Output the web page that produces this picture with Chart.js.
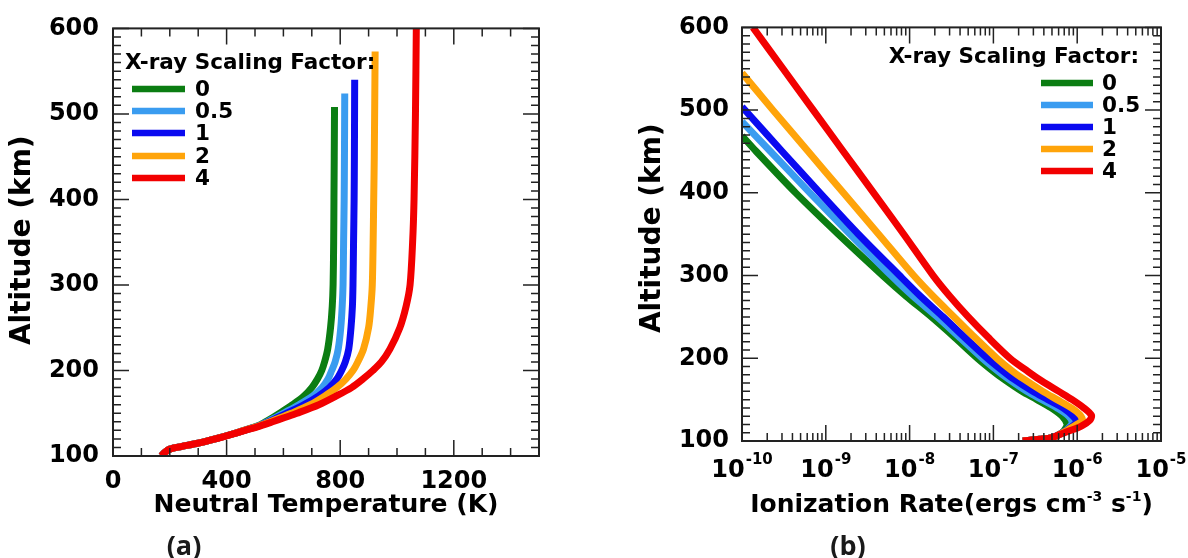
<!DOCTYPE html>
<html><head><meta charset="utf-8">
<script src="https://cdn.jsdelivr.net/npm/chart.js@4.4.1/dist/chart.umd.min.js"></script>
<style>
html,body{margin:0;padding:0;background:#fff;}
#wrap{position:relative;width:1188px;height:558px;overflow:hidden;background:#fff;}
canvas{position:absolute;top:0;}
#ca{left:0;} #cb{left:594px;}
.lab{position:absolute;font-family:"Open Sans";font-weight:700;font-size:27px;color:#1a1a1a;transform:translate(-50%,-50%);line-height:1;}
</style></head><body>
<div id="wrap">
<canvas id="ca" width="594" height="558"></canvas>
<canvas id="cb" width="594" height="558"></canvas>
<div class="lab" style="left:184px;top:544px">(a)</div>
<div class="lab" style="left:848px;top:544px">(b)</div>
</div>
<script>
// ---------- DATA ----------
const factors = ['0', '0.5', '1', '2', '4'];
const colors = ['#0b7d12', '#3a9cf0', '#0a0af0', '#ffa40a', '#f20000'];

// Panel (a): neutral temperature (K) vs altitude (km)
const altT_0  = [100,104,108,111,115,120,126,130,135,140,145,150,160,170,180,190,200,210,225,250,275,300,350,400,450,508];
const temp_0  = [170,182,200,240,300,360,424,462,508,537,563,587,632,672,700,720,735,745,756,766,772,775,777,778,779,780];
const altT_05 = [100,104,108,111,115,120,126,130,135,140,145,150,160,170,180,190,200,210,225,250,275,300,350,400,450,524];
const temp_05 = [170,182,200,240,300,360,424,462,511,543,572,600,655,703,736,757,770,782,793,802,807,810,812,814,815,816];
const altT_1  = [100,104,108,111,115,120,126,130,135,140,145,150,160,170,180,190,200,210,225,250,275,300,350,400,450,540];
const temp_1  = [170,182,200,240,300,360,424,462,512,548,580,612,673,723,762,788,805,818,830,838,843,845,847,849,850,851];
const altT_2  = [100,104,108,111,115,120,126,130,135,140,145,150,160,170,180,190,200,210,225,250,275,300,350,400,450,573];
const temp_2  = [170,182,200,240,300,360,424,462,513,553,590,628,695,745,788,820,845,862,882,900,908,913,916,918,920,923];
const altT_4  = [100,104,108,111,115,120,126,130,135,140,145,150,160,170,180,190,200,210,225,250,275,300,350,400,500,600];
const temp_4  = [170,182,200,240,300,360,424,465,517,562,605,648,725,785,840,880,915,945,975,1010,1032,1046,1055,1060,1065,1068];

// Panel (b): ionization rate (ergs cm^-3 s^-1) vs altitude (km)
const altI_0  = [469,450,400,350,300,275,250,225,200,185,175,160,150,140,130,120,115,110,107,104,102,100];
const ion_0   = [1.0e-10,1.48e-10,4.37e-10,1.41e-9,4.79e-9,9.12e-9,1.82e-8,3.47e-8,6.46e-8,9.77e-8,1.32e-7,2.19e-7,3.31e-7,4.90e-7,6.61e-7,7.59e-7,7.24e-7,6.61e-7,5.89e-7,5.01e-7,3.55e-7,2.24e-7];
const altI_05 = [486,450,400,350,300,275,250,225,200,185,175,160,150,140,130,122,116,111,107,104,102,100];
const ion_05  = [1.0e-10,2.19e-10,6.46e-10,1.95e-9,6.03e-9,1.10e-8,2.14e-8,3.98e-8,7.41e-8,1.12e-7,1.51e-7,2.51e-7,3.80e-7,5.75e-7,7.94e-7,8.71e-7,7.94e-7,6.92e-7,5.89e-7,5.01e-7,3.55e-7,2.24e-7];
const altI_1  = [504,450,400,350,300,275,250,225,200,185,175,160,150,140,130,123,117,112,107,104,102,100];
const ion_1   = [1.0e-10,3.02e-10,8.51e-10,2.45e-9,7.59e-9,1.35e-8,2.51e-8,4.57e-8,8.51e-8,1.29e-7,1.74e-7,2.95e-7,4.47e-7,6.76e-7,8.91e-7,9.77e-7,8.51e-7,7.24e-7,5.89e-7,5.01e-7,3.55e-7,2.24e-7];
const altI_2  = [545,500,450,400,350,300,275,250,225,200,185,175,160,150,140,132,125,119,113,107,104,102,100];
const ion_2   = [1.0e-10,2.34e-10,6.17e-10,1.62e-9,4.27e-9,1.12e-8,1.91e-8,3.39e-8,6.03e-8,1.10e-7,1.66e-7,2.29e-7,3.89e-7,5.75e-7,8.51e-7,1.07e-6,1.15e-6,9.55e-7,7.59e-7,5.89e-7,5.01e-7,3.55e-7,2.24e-7];
const altI_4  = [600,550,500,450,400,350,300,275,250,225,200,185,175,160,150,140,131,125,118,112,107,104,102,100];
const ion_4   = [1.35e-10,3.09e-10,7.08e-10,1.62e-9,3.72e-9,8.51e-9,1.91e-8,3.02e-8,5.01e-8,8.71e-8,1.58e-7,2.51e-7,3.47e-7,6.03e-7,8.71e-7,1.20e-6,1.48e-6,1.41e-6,1.12e-6,7.94e-7,5.89e-7,5.01e-7,3.55e-7,2.24e-7];

// Tick labels
const altTicks  = [100, 200, 300, 400, 500, 600];
const tempTicks = [0, 400, 800, 1200];
const ionTicks  = [1e-10, 1e-9, 1e-8, 1e-7, 1e-6, 1e-5];

const legendTitle = 'X-ray Scaling Factor:';
const titleTemp = 'Neutral Temperature (K)';
const titleAlt = 'Altitude (km)';
// ---------- END DATA ----------

const FONT = '"DejaVu Sans"';
const drawOrder = [4, 3, 2, 1, 0];

function mkSets(alts, vals, lw) {
  return alts.map((a, k) => ({
    label: factors[k],
    data: a.map((y, i) => ({ x: vals[k][i], y: y })),
    borderColor: colors[k],
    backgroundColor: colors[k],
    borderWidth: lw,
    showLine: true,
    pointRadius: 0,
    pointHoverRadius: 0,
    tension: 0.3,
    fill: false,
    clip: 0,
    order: drawOrder[k],
    borderCapStyle: 'butt',
    borderJoinStyle: 'round'
  }));
}

function minorList(from, to, step, skipEvery) {
  const out = [];
  for (let v = from; v <= to + 1e-9; v += step) {
    if (skipEvery && Math.abs(v / skipEvery - Math.round(v / skipEvery)) < 1e-9) continue;
    out.push(v);
  }
  return out;
}
function logMinor() {
  const out = [];
  for (let e = -10; e < -5; e++) for (let k = 2; k <= 9; k++) out.push(k * Math.pow(10, e));
  return out;
}

function framePlugin(cfg) {
  return {
    id: 'frame_' + cfg.name,
    afterDraw(chart) {
      const ctx = chart.ctx, a = chart.chartArea, xs = chart.scales.x, ys = chart.scales.y;
      ctx.save();
      ctx.strokeStyle = '#222'; ctx.lineWidth = 1.5;
      ctx.beginPath();
      const tick = (vals, len, isX) => {
        vals.forEach(v => {
          if (isX) {
            const p = xs.getPixelForValue(v);
            if (p < a.left - 0.5 || p > a.right + 0.5) return;
            ctx.moveTo(p, a.bottom); ctx.lineTo(p, a.bottom - len);
            ctx.moveTo(p, a.top); ctx.lineTo(p, a.top + len);
          } else {
            const p = ys.getPixelForValue(v);
            ctx.moveTo(a.left, p); ctx.lineTo(a.left + len, p);
            ctx.moveTo(a.right, p); ctx.lineTo(a.right - len, p);
          }
        });
      };
      tick(cfg.xMajor, 16, true); tick(cfg.xMinor, 8, true);
      tick(altTicks, 16, false); tick(minorList(100, 600, 10, 100), 8, false);
      ctx.stroke();
      ctx.lineWidth = 2;
      ctx.strokeRect(a.left, a.top, a.right - a.left, a.bottom - a.top);

      // y title
      ctx.fillStyle = '#000';
      ctx.font = 'bold 28px ' + FONT;
      ctx.textAlign = 'center'; ctx.textBaseline = 'middle';
      ctx.save();
      ctx.translate(cfg.yTitleX, (a.top + a.bottom) / 2 + cfg.yTitleDy);
      ctx.rotate(-Math.PI / 2);
      ctx.fillText(titleAlt, 0, 0);
      ctx.restore();

      // x title + custom labels
      cfg.drawXTitle(ctx, a);
      if (cfg.drawXLabels) cfg.drawXLabels(ctx, a, xs);

      // legend
      const L = cfg.legend;
      ctx.font = 'bold 21.5px ' + FONT;
      ctx.fillStyle = '#000';
      ctx.textBaseline = 'middle';
      ctx.textAlign = L.titleAlign;
      ctx.fillText(legendTitle, L.titleX, L.titleY);
      ctx.textAlign = 'left';
      chart.data.datasets.forEach((ds, i) => {
        const y = L.rows[i];
        ctx.strokeStyle = ds.borderColor; ctx.lineWidth = 6.5; ctx.lineCap = 'butt';
        ctx.beginPath(); ctx.moveTo(L.x1, y); ctx.lineTo(L.x2, y); ctx.stroke();
        ctx.fillText(ds.label, L.textX, y + 1);
      });
      ctx.restore();
    }
  };
}

const tickFont = { family: FONT, size: 24, weight: 'bold' };
const plainLabel = v => String(v);

// ---------- Chart (a) ----------
new Chart(document.getElementById('ca'), {
  type: 'scatter',
  data: { datasets: mkSets([altT_0, altT_05, altT_1, altT_2, altT_4], [temp_0, temp_05, temp_1, temp_2, temp_4], 7) },
  options: {
    responsive: false, animation: false, devicePixelRatio: 1,
    layout: { padding: { left: 0, top: 26, right: 55, bottom: 0 } },
    plugins: { legend: { display: false }, tooltip: { enabled: false } },
    scales: {
      x: {
        type: 'linear', min: 0, max: 1500,
        afterBuildTicks: s => { s.ticks = tempTicks.map(v => ({ value: v })); },
        afterFit: s => { s.height = 102; },
        ticks: { font: tickFont, color: '#000', padding: 11, autoSkip: false, maxRotation: 0, callback: plainLabel },
        grid: { display: false, drawTicks: false }, border: { display: false }
      },
      y: {
        type: 'linear', min: 100, max: 600,
        afterBuildTicks: s => { s.ticks = altTicks.map(v => ({ value: v })); },
        afterFit: s => { s.width = 113; },
        ticks: { font: tickFont, color: '#000', padding: 14, autoSkip: false, callback: plainLabel },
        grid: { display: false, drawTicks: false }, border: { display: false }
      }
    }
  },
  plugins: [framePlugin({
    name: 'a',
    xMajor: tempTicks, xMinor: minorList(100, 1400, 100, 400),
    yTitleX: 23, yTitleDy: -2,
    drawXTitle: (ctx, a) => {
      ctx.font = 'bold 25px ' + FONT; ctx.textAlign = 'center'; ctx.textBaseline = 'alphabetic';
      ctx.fillStyle = '#000';
      ctx.fillText(titleTemp, (a.left + a.right) / 2, 512);
    },
    legend: { titleAlign: 'left', titleX: 125, titleY: 63, x1: 132, x2: 185, textX: 195, rows: [89, 111, 133, 156, 178] }
  })]
});

// ---------- Chart (b) ----------
new Chart(document.getElementById('cb'), {
  type: 'scatter',
  data: { datasets: mkSets([altI_0, altI_05, altI_1, altI_2, altI_4], [ion_0, ion_05, ion_1, ion_2, ion_4], 7) },
  options: {
    responsive: false, animation: false, devicePixelRatio: 1,
    layout: { padding: { left: 0, top: 20, right: 27, bottom: 0 } },
    plugins: { legend: { display: false }, tooltip: { enabled: false } },
    scales: {
      x: {
        type: 'logarithmic', min: 1e-10, max: 1e-5,
        afterBuildTicks: s => { s.ticks = ionTicks.map(v => ({ value: v })); },
        afterFit: s => { s.height = 117; },
        ticks: { display: false },
        grid: { display: false, drawTicks: false }, border: { display: false }
      },
      y: {
        type: 'linear', min: 100, max: 600,
        afterBuildTicks: s => { s.ticks = altTicks.map(v => ({ value: v })); },
        afterFit: s => { s.width = 148; },
        ticks: { font: tickFont, color: '#000', padding: 13, autoSkip: false, callback: plainLabel },
        grid: { display: false, drawTicks: false }, border: { display: false }
      }
    }
  },
  plugins: [framePlugin({
    name: 'b',
    xMajor: ionTicks, xMinor: logMinor(),
    yTitleX: 59, yTitleDy: -6,
    drawXLabels: (ctx, a, xs) => {
      ctx.fillStyle = '#000'; ctx.textAlign = 'left'; ctx.textBaseline = 'alphabetic';
      ionTicks.forEach(v => {
        const p = xs.getPixelForValue(v);
        const ex = String(Math.round(Math.log10(v)));
        ctx.font = 'bold 24px ' + FONT; const w1 = ctx.measureText('10').width;
        ctx.font = 'bold 15px ' + FONT; const w2 = ctx.measureText(ex).width;
        const s = p - (w1 + w2 + 1) / 2;
        ctx.font = 'bold 24px ' + FONT; ctx.fillText('10', s, 477);
        ctx.font = 'bold 15px ' + FONT; ctx.fillText(ex, s + w1 + 1, 464);
      });
    },
    drawXTitle: (ctx, a) => {
      const parts = [['Ionization Rate(ergs cm', 25, 0], ['-3', 14, -11], [' s', 25, 0], ['-1', 14, -11], [')', 25, 0]];
      let total = 0;
      parts.forEach(p => { ctx.font = 'bold ' + p[1] + 'px ' + FONT; total += ctx.measureText(p[0]).width; });
      let x = (a.left + a.right) / 2 - total / 2;
      ctx.fillStyle = '#000'; ctx.textAlign = 'left'; ctx.textBaseline = 'alphabetic';
      parts.forEach(p => {
        ctx.font = 'bold ' + p[1] + 'px ' + FONT;
        ctx.fillText(p[0], x, 512 + p[2]);
        x += ctx.measureText(p[0]).width;
      });
    },
    legend: { titleAlign: 'right', titleX: 1139 - 594, titleY: 57, x1: 1041 - 594, x2: 1093 - 594, textX: 1102 - 594, rows: [83, 105, 127, 149, 171] }
  })]
});
</script>
</body></html>
